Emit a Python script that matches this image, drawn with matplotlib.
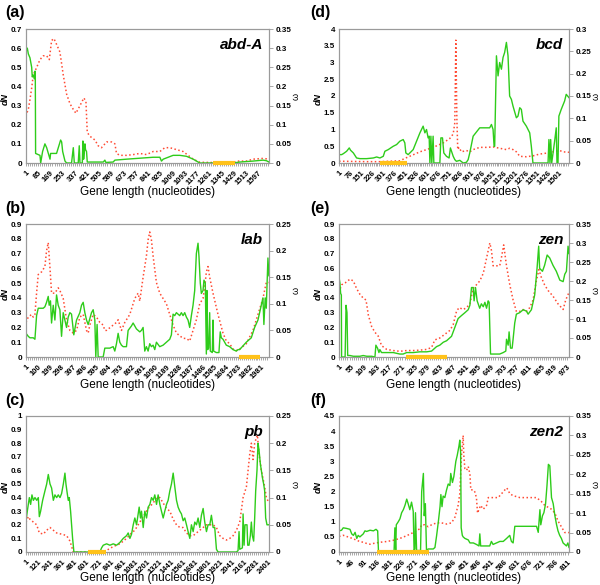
import matplotlib
matplotlib.use("Agg")
import matplotlib.pyplot as plt
import numpy as np

plt.rcParams['font.family'] = ['Liberation Sans', 'DejaVu Sans']

# ---------------- (a) abd-A ----------------
a_pos_dn = [1, 10, 17, 28, 40, 44, 51, 58, 63, 65, 67, 97, 102, 115, 131, 143, 166, 170, 211, 223, 239, 246, 253, 269, 280, 314, 326, 333, 360, 367, 372, 388, 392, 397, 401, 406, 410, 417, 422, 532, 543, 550, 600, 612, 692, 783, 875, 921, 932, 944, 1012, 1058, 1104, 1150, 1195, 1424, 1470, 1561, 1630, 1653, 1671]
a_dn = [0.59, 0.6, 0.57, 0.55, 0.5, 0.45, 0.46, 0.44, 0.48, 0.44, 0.05, 0.04, 0.0, 0.06, 0.1, 0.08, 0.02, 0.05, 0.05, 0.08, 0.12, 0.11, 0.06, 0.01, 0.0, 0.0, 0.08, 0.0, 0.0, 0.09, 0.0, 0.0, 0.115, 0.02, 0.05, 0.1, 0.07, 0.06, 0.005, 0.005, 0.015, 0.003, 0.005, 0.015, 0.02, 0.025, 0.03, 0.03, 0.01, 0.02, 0.04, 0.04, 0.035, 0.02, 0.0, 0.0, 0.005, 0.01, 0.015, 0.012, 0.005]
a_pos_w = [1, 6, 17, 28, 40, 51, 63, 86, 97, 120, 143, 161, 177, 193, 211, 234, 257, 280, 303, 326, 344, 372, 399, 413, 422, 440, 475, 497, 520, 555, 589, 612, 623, 646, 692, 738, 783, 829, 875, 921, 955, 989, 1035, 1081, 1115, 1150, 1195, 1424, 1447, 1515, 1561, 1630, 1671]
a_w = [0.122, 0.13, 0.14, 0.165, 0.196, 0.23, 0.24, 0.26, 0.27, 0.28, 0.28, 0.27, 0.32, 0.325, 0.31, 0.29, 0.23, 0.18, 0.155, 0.14, 0.13, 0.15, 0.17, 0.16, 0.08, 0.07, 0.06, 0.045, 0.04, 0.055, 0.055, 0.05, 0.025, 0.02, 0.02, 0.022, 0.025, 0.022, 0.03, 0.03, 0.04, 0.04, 0.035, 0.03, 0.02, 0.01, 0.002, 0.0, 0.005, 0.005, 0.01, 0.012, 0.01]
a_seg = [1285, 1436]

# ---------------- (b) lab ----------------
b_pos_dn = [1, 20, 34, 62, 76, 90, 104, 146, 160, 174, 188, 196, 207, 216, 230, 244, 258, 272, 286, 300, 314, 328, 342, 356, 370, 384, 403, 426, 454, 468, 482, 496, 510, 524, 538, 552, 566, 580, 588, 599, 608, 622, 650, 664, 706, 734, 748, 762, 776, 790, 804, 818, 846, 860, 888, 902, 930, 958, 972, 986, 1000, 1014, 1028, 1042, 1056, 1070, 1084, 1098, 1126, 1154, 1182, 1210, 1224, 1238, 1252, 1266, 1294, 1308, 1322, 1336, 1350, 1364, 1378, 1392, 1406, 1420, 1434, 1448, 1456, 1467, 1476, 1490, 1498, 1509, 1518, 1523, 1529, 1537, 1546, 1551, 1568, 1574, 1579, 1602, 1624, 1635, 1644, 1658, 1686, 1714, 1742, 1770, 1784, 1798, 1854, 1896, 1924, 1952, 1980, 1994, 2002, 2013, 2022, 2036, 2044]
b_dn = [0.16, 0.14, 0.13, 0.13, 0.12, 0.28, 0.33, 0.33, 0.34, 0.37, 0.41, 0.35, 0.38, 0.23, 0.35, 0.25, 0.42, 0.35, 0.32, 0.14, 0.3, 0.25, 0.2, 0.27, 0.3, 0.29, 0.15, 0.25, 0.3, 0.35, 0.37, 0.3, 0.25, 0.22, 0.26, 0.3, 0.32, 0.25, 0.0, 0.22, 0.0, 0.0, 0.0, 0.06, 0.06, 0.07, 0.04, 0.09, 0.16, 0.1, 0.08, 0.07, 0.07, 0.18, 0.21, 0.23, 0.19, 0.17, 0.18, 0.2, 0.04, 0.07, 0.04, 0.09, 0.07, 0.08, 0.05, 0.1, 0.07, 0.08, 0.1, 0.12, 0.15, 0.29, 0.28, 0.3, 0.28, 0.3, 0.28, 0.3, 0.27, 0.25, 0.2, 0.28, 0.35, 0.45, 0.7, 0.77, 0.68, 0.5, 0.43, 0.45, 0.52, 0.5, 0.02, 0.45, 0.05, 0.06, 0.3, 0.04, 0.03, 0.25, 0.04, 0.03, 0.03, 0.17, 0.13, 0.12, 0.08, 0.07, 0.05, 0.04, 0.05, 0.05, 0.1, 0.13, 0.2, 0.25, 0.35, 0.4, 0.22, 0.4, 0.33, 0.67, 0.55]
b_pos_w = [1, 20, 48, 62, 76, 90, 104, 132, 160, 174, 188, 202, 216, 244, 272, 286, 314, 342, 370, 398, 426, 454, 482, 510, 524, 538, 566, 594, 622, 650, 664, 678, 706, 734, 762, 776, 804, 832, 874, 916, 944, 958, 986, 1014, 1028, 1042, 1056, 1070, 1098, 1126, 1154, 1182, 1210, 1238, 1266, 1294, 1322, 1350, 1378, 1406, 1434, 1462, 1490, 1504, 1518, 1532, 1546, 1574, 1616, 1658, 1686, 1714, 1742, 1770, 1798, 1854, 1910, 1966, 1994, 2022, 2044]
b_w = [0.065, 0.075, 0.08, 0.075, 0.08, 0.12, 0.155, 0.16, 0.17, 0.2, 0.215, 0.17, 0.12, 0.12, 0.13, 0.125, 0.11, 0.07, 0.05, 0.045, 0.05, 0.075, 0.08, 0.05, 0.045, 0.06, 0.08, 0.075, 0.065, 0.06, 0.05, 0.05, 0.055, 0.06, 0.065, 0.07, 0.05, 0.065, 0.08, 0.11, 0.12, 0.105, 0.15, 0.19, 0.22, 0.235, 0.22, 0.19, 0.14, 0.12, 0.11, 0.1, 0.08, 0.06, 0.045, 0.04, 0.035, 0.035, 0.03, 0.05, 0.07, 0.1, 0.11, 0.13, 0.16, 0.17, 0.15, 0.12, 0.08, 0.045, 0.03, 0.025, 0.015, 0.012, 0.015, 0.025, 0.05, 0.09, 0.11, 0.14, 0.14]
b_seg = [1793, 1972]

# ---------------- (c) pb ----------------
c_pos_dn = [1, 14, 34, 47, 60, 74, 90, 107, 123, 133, 146, 166, 189, 206, 222, 239, 255, 272, 288, 305, 321, 338, 354, 371, 387, 397, 410, 420, 430, 443, 463, 476, 734, 750, 767, 800, 833, 866, 899, 932, 965, 998, 1014, 1031, 1047, 1064, 1080, 1097, 1123, 1136, 1146, 1163, 1179, 1196, 1212, 1229, 1245, 1262, 1278, 1295, 1311, 1328, 1344, 1361, 1377, 1394, 1410, 1427, 1443, 1460, 1476, 1493, 1509, 1526, 1542, 1559, 1575, 1592, 1608, 1625, 1641, 1658, 1674, 1691, 1707, 1724, 1740, 1757, 1773, 1790, 1806, 1823, 1839, 1856, 1872, 1889, 1905, 2087, 2103, 2113, 2120, 2146, 2153, 2163, 2172, 2192, 2199, 2212, 2225, 2235, 2245, 2258, 2268, 2278, 2291, 2301, 2311, 2324, 2344, 2357, 2367, 2377, 2390, 2410]
c_dn = [0.23, 0.3, 0.4, 0.35, 0.42, 0.38, 0.4, 0.38, 0.4, 0.26, 0.3, 0.38, 0.45, 0.5, 0.57, 0.5, 0.47, 0.38, 0.42, 0.4, 0.42, 0.4, 0.43, 0.5, 0.58, 0.5, 0.43, 0.38, 0.4, 0.3, 0.1, 0.0, 0.0, 0.03, 0.05, 0.06, 0.05, 0.06, 0.05, 0.07, 0.1, 0.12, 0.14, 0.1, 0.13, 0.2, 0.25, 0.2, 0.33, 0.25, 0.3, 0.18, 0.3, 0.25, 0.33, 0.35, 0.4, 0.38, 0.42, 0.35, 0.42, 0.35, 0.3, 0.25, 0.3, 0.35, 0.38, 0.45, 0.5, 0.58, 0.48, 0.38, 0.33, 0.3, 0.28, 0.23, 0.25, 0.2, 0.15, 0.1, 0.2, 0.15, 0.22, 0.2, 0.25, 0.18, 0.27, 0.32, 0.22, 0.15, 0.2, 0.2, 0.27, 0.18, 0.18, 0.02, 0.0, 0.0, 0.01, 0.15, 0.02, 0.03, 0.28, 0.05, 0.2, 0.2, 0.05, 0.05, 0.12, 0.22, 0.12, 0.08, 0.25, 0.45, 0.6, 0.8, 0.75, 0.65, 0.55, 0.5, 0.45, 0.25, 0.2, 0.2]
c_pos_w = [1, 24, 41, 74, 107, 133, 173, 206, 239, 272, 305, 371, 404, 437, 470, 734, 800, 866, 932, 998, 1047, 1080, 1113, 1146, 1179, 1212, 1262, 1295, 1328, 1361, 1394, 1427, 1460, 1493, 1526, 1559, 1592, 1625, 1658, 1724, 1790, 1856, 1889, 1922, 1955, 1988, 2021, 2054, 2087, 2120, 2153, 2186, 2219, 2235, 2252, 2268, 2285, 2295, 2311, 2334, 2367, 2384, 2410]
c_w = [0.055, 0.065, 0.06, 0.055, 0.05, 0.035, 0.033, 0.04, 0.045, 0.04, 0.035, 0.032, 0.03, 0.02, 0.0, 0.0, 0.003, 0.01, 0.015, 0.025, 0.035, 0.04, 0.05, 0.06, 0.07, 0.08, 0.09, 0.1, 0.1, 0.09, 0.08, 0.075, 0.06, 0.05, 0.045, 0.045, 0.035, 0.03, 0.03, 0.04, 0.05, 0.05, 0.045, 0.03, 0.025, 0.022, 0.025, 0.03, 0.04, 0.055, 0.1, 0.12, 0.18, 0.2, 0.17, 0.2, 0.21, 0.215, 0.18, 0.15, 0.12, 0.1, 0.09]
c_seg = [618, 793]

# ---------------- (d) bcd ----------------
d_pos_dn = [1, 19, 31, 53, 71, 80, 99, 121, 144, 189, 235, 258, 280, 303, 314, 337, 371, 394, 416, 439, 450, 457, 473, 507, 530, 553, 575, 587, 598, 609, 616, 621, 628, 634, 643, 648, 689, 696, 707, 716, 734, 752, 761, 780, 791, 802, 825, 848, 870, 882, 893, 916, 961, 1029, 1041, 1052, 1059, 1063, 1075, 1086, 1097, 1109, 1120, 1131, 1143, 1154, 1165, 1177, 1188, 1211, 1222, 1234, 1245, 1256, 1279, 1302, 1313, 1324, 1427, 1433, 1440, 1445, 1452, 1472, 1483, 1488, 1495, 1501, 1517, 1540, 1551, 1570]
d_dn = [0.25, 0.25, 0.28, 0.35, 0.45, 0.38, 0.3, 0.15, 0.13, 0.13, 0.15, 0.18, 0.15, 0.2, 0.35, 0.4, 0.5, 0.55, 0.65, 0.7, 0.6, 0.3, 0.25, 0.4, 0.65, 0.9, 1.1, 0.9, 1.0, 0.75, 0.8, 0.0, 0.8, 0.0, 0.8, 0.0, 0.0, 0.75, 0.75, 0.3, 0.2, 0.15, 0.45, 0.2, 0.1, 0.05, 0.08, 0.0, 0.02, 0.1, 0.3, 0.8, 1.05, 1.05, 1.15, 1.0, 0.5, 0.5, 3.2, 2.6, 3.0, 2.8, 3.15, 3.3, 3.6, 3.2, 2.0, 1.9, 1.7, 1.35, 1.4, 1.65, 1.6, 1.25, 1.1, 0.9, 0.5, 0.0, 0.0, 0.7, 0.0, 0.7, 0.0, 0.65, 1.05, 0.0, 0.0, 1.4, 1.6, 1.85, 2.05, 1.95]
d_pos_w = [1, 189, 280, 416, 462, 553, 643, 712, 757, 780, 791, 798, 805, 811, 820, 836, 870, 893, 916, 961, 1007, 1052, 1097, 1143, 1165, 1188, 1211, 1234, 1279, 1324, 1370, 1415, 1461, 1506, 1529, 1570]
d_w = [0.004, 0.003, 0.003, 0.005, 0.012, 0.025, 0.035, 0.045, 0.055, 0.065, 0.09, 0.275, 0.1, 0.03, 0.035, 0.025, 0.028, 0.025, 0.03, 0.035, 0.035, 0.036, 0.033, 0.03, 0.033, 0.03, 0.025, 0.015, 0.014, 0.016, 0.02, 0.022, 0.025, 0.028, 0.025, 0.024]
d_seg = [280, 468]

# ---------------- (e) zen ----------------
e_pos_dn = [1, 5, 8, 11, 12, 27, 31, 35, 38, 48, 62, 90, 104, 119, 140, 154, 158, 165, 171, 175, 182, 204, 232, 260, 274, 289, 317, 345, 374, 395, 402, 416, 430, 445, 459, 480, 494, 508, 522, 537, 551, 558, 565, 572, 576, 582, 589, 600, 607, 615, 622, 629, 636, 640, 646, 657, 685, 700, 711, 714, 721, 725, 731, 738, 742, 749, 756, 770, 785, 799, 806, 820, 834, 844, 851, 855, 867, 876, 887, 898, 912, 926, 941, 955, 962, 969, 976, 980]
e_dn = [0.54, 0.5, 0.43, 0.42, 0.0, 0.0, 0.35, 0.3, 0.01, 0.01, 0.005, 0.005, 0.01, 0.005, 0.005, 0.0, 0.08, 0.06, 0.03, 0.05, 0.03, 0.03, 0.03, 0.02, 0.02, 0.03, 0.03, 0.035, 0.035, 0.04, 0.05, 0.07, 0.08, 0.1, 0.11, 0.14, 0.2, 0.26, 0.28, 0.3, 0.32, 0.35, 0.47, 0.47, 0.38, 0.47, 0.38, 0.33, 0.36, 0.34, 0.37, 0.33, 0.38, 0.37, 0.02, 0.02, 0.02, 0.03, 0.04, 0.12, 0.08, 0.17, 0.06, 0.06, 0.12, 0.23, 0.29, 0.3, 0.32, 0.31, 0.29, 0.32, 0.42, 0.6, 0.75, 0.6, 0.58, 0.62, 0.69, 0.67, 0.62, 0.58, 0.52, 0.51, 0.56, 0.58, 0.75, 0.7]
e_pos_w = [1, 12, 27, 48, 62, 76, 90, 104, 116, 126, 140, 154, 168, 182, 204, 232, 260, 289, 317, 345, 374, 395, 409, 430, 452, 473, 487, 501, 512, 530, 544, 558, 572, 586, 600, 615, 629, 643, 650, 657, 671, 685, 692, 702, 714, 728, 742, 756, 770, 785, 799, 813, 827, 841, 852, 862, 876, 891, 912, 933, 955, 966, 980]
e_w = [0.17, 0.19, 0.195, 0.205, 0.2, 0.18, 0.165, 0.155, 0.15, 0.11, 0.08, 0.065, 0.055, 0.03, 0.02, 0.017, 0.015, 0.017, 0.017, 0.018, 0.02, 0.025, 0.045, 0.05, 0.06, 0.07, 0.085, 0.12, 0.13, 0.125, 0.13, 0.14, 0.18, 0.19, 0.2, 0.22, 0.26, 0.3, 0.28, 0.24, 0.24, 0.24, 0.26, 0.295, 0.24, 0.19, 0.15, 0.12, 0.12, 0.125, 0.12, 0.13, 0.15, 0.2, 0.23, 0.21, 0.19, 0.175, 0.16, 0.14, 0.125, 0.15, 0.17]
e_seg = [286, 462]

# ---------------- (f) zen2 ----------------
f_pos_dn = [1, 10, 16, 28, 40, 46, 52, 58, 64, 69, 75, 87, 93, 99, 111, 123, 132, 138, 141, 196, 199, 202, 204, 211, 217, 223, 229, 235, 241, 246, 252, 258, 264, 267, 270, 272, 276, 290, 294, 300, 303, 307, 311, 317, 335, 341, 347, 353, 359, 362, 366, 370, 376, 382, 388, 394, 397, 403, 408, 415, 420, 426, 429, 432, 434, 438, 441, 447, 459, 465, 477, 488, 497, 500, 503, 512, 524, 535, 541, 547, 559, 571, 583, 595, 606, 612, 618, 624, 701, 707, 713, 716, 722, 727, 733, 738, 743, 748, 754, 760, 766, 772, 777, 783, 789, 795, 801, 807, 812, 816]
f_dn = [0.7, 0.72, 0.8, 0.78, 0.75, 0.6, 0.55, 0.65, 0.45, 0.55, 0.5, 0.6, 0.7, 0.68, 0.72, 0.7, 0.75, 0.7, 0.0, 0.0, 0.8, 0.0, 0.9, 1.0, 1.1, 1.3, 1.4, 1.55, 1.75, 1.6, 1.4, 1.65, 1.35, 0.05, 0.1, 1.3, 0.05, 0.05, 2.0, 2.6, 1.2, 1.6, 0.05, 0.1, 0.1, 0.15, 0.55, 1.0, 1.5, 1.9, 1.5, 1.85, 1.8, 2.05, 2.25, 2.2, 2.6, 2.3, 2.5, 3.0, 3.2, 3.5, 3.7, 3.3, 0.8, 0.55, 0.5, 0.45, 0.4, 0.3, 0.3, 0.25, 0.2, 0.6, 0.2, 0.2, 0.2, 0.2, 0.35, 0.25, 0.3, 0.35, 0.35, 0.45, 0.55, 0.35, 0.3, 0.85, 0.85, 0.65, 1.4, 0.9, 1.2, 1.3, 1.6, 2.2, 2.9, 2.85, 1.8, 1.6, 1.2, 0.9, 0.7, 0.55, 0.45, 0.3, 0.25, 0.2, 0.3, 0.15]
f_pos_w = [1, 16, 28, 40, 52, 64, 75, 87, 99, 111, 123, 146, 170, 193, 217, 241, 264, 288, 294, 305, 317, 329, 347, 364, 382, 400, 412, 423, 429, 435, 441, 443, 447, 453, 459, 465, 468, 477, 482, 488, 492, 497, 503, 512, 524, 530, 547, 565, 577, 589, 595, 600, 606, 618, 642, 677, 701, 718, 730, 742, 754, 766, 777, 789, 801, 816]
f_w = [0.04, 0.043, 0.04, 0.037, 0.034, 0.03, 0.027, 0.025, 0.022, 0.02, 0.022, 0.025, 0.027, 0.03, 0.035, 0.042, 0.05, 0.06, 0.07, 0.07, 0.065, 0.07, 0.075, 0.075, 0.072, 0.075, 0.09, 0.12, 0.15, 0.25, 0.3, 0.25, 0.215, 0.21, 0.22, 0.2, 0.16, 0.16, 0.155, 0.14, 0.1, 0.11, 0.12, 0.11, 0.12, 0.14, 0.14, 0.14, 0.15, 0.16, 0.165, 0.16, 0.15, 0.145, 0.14, 0.14, 0.14, 0.13, 0.12, 0.115, 0.11, 0.1, 0.08, 0.065, 0.05, 0.05]
f_seg = [137, 321]

panels = [
    dict(tag='(a)', gene='abd-A', pos_dn=a_pos_dn, dn=a_dn, pos_w=a_pos_w, w=a_w, seg=a_seg,
         xmax=1671, step=84, dnmax=0.7, dnstep=0.1, wmax=0.35, wstep=0.05,
         box=(26, 269, 29, 163), col=0, xl=192),
    dict(tag='(b)', gene='lab', pos_dn=b_pos_dn, dn=b_dn, pos_w=b_pos_w, w=b_w, seg=b_seg,
         xmax=2045, step=99, dnmax=0.9, dnstep=0.1, wmax=0.25, wstep=0.05,
         box=(26, 269, 224, 357), col=0, xl=385),
    dict(tag='(c)', gene='pb', pos_dn=c_pos_dn, dn=c_dn, pos_w=c_pos_w, w=c_w, seg=c_seg,
         xmax=2410, step=120, dnmax=1.0, dnstep=0.1, wmax=0.25, wstep=0.05,
         box=(26, 269, 416, 552), col=0, xl=578),
    dict(tag='(d)', gene='bcd', pos_dn=d_pos_dn, dn=d_dn, pos_w=d_pos_w, w=d_w, seg=d_seg,
         xmax=1570, step=75, dnmax=4.0, dnstep=0.5, wmax=0.3, wstep=0.05,
         box=(339, 569, 29, 163), col=1, xl=192),
    dict(tag='(e)', gene='zen', pos_dn=e_pos_dn, dn=e_dn, pos_w=e_pos_w, w=e_w, seg=e_seg,
         xmax=980, step=54, dnmax=0.9, dnstep=0.1, wmax=0.35, wstep=0.05,
         box=(339, 569, 224, 357), col=1, xl=385),
    dict(tag='(f)', gene='zen2', pos_dn=f_pos_dn, dn=f_dn, pos_w=f_pos_w, w=f_w, seg=f_seg,
         xmax=816, step=45, dnmax=4.5, dnstep=0.5, wmax=0.35, wstep=0.05,
         box=(339, 569, 416, 552), col=1, xl=578),
]

W, H = 600, 585
fig = plt.figure(figsize=(W / 100, H / 100), dpi=100)

GREEN = '#2ecc1a'
RED = '#ff4a33'
GREY = '#9a9a9a'


def fmt(v):
    s = ('%.2f' % v).rstrip('0').rstrip('.')
    return s


for p in panels:
    l, r, t, b = p['box']
    ax = fig.add_axes([l / W, 1 - b / H, (r - l) / W, (b - t) / H])
    ax2 = ax.twinx()
    ax.set_zorder(ax2.get_zorder() + 1)
    ax.patch.set_visible(False)

    ax2.plot(p['pos_w'], p['w'], color=RED, lw=1.1, ls=(0, (1, 1.6)))
    ax.plot(p['pos_dn'], p['dn'], color=GREEN, lw=1.0)
    ax.plot(p['seg'], [0, 0], color='#ffc21a', lw=3.0, solid_capstyle='butt', zorder=5, clip_on=False)

    ax.set_xlim(1, p['xmax'])
    ax.set_ylim(0, p['dnmax'])
    ax2.set_ylim(0, p['wmax'])

    major = np.arange(1, p['xmax'], p['step'])
    ax.set_xticks(major)
    ax.set_xticklabels([str(v) for v in major], rotation=45, ha='right', va='top',
                       fontsize=5.5, fontweight='bold', rotation_mode='anchor')
    ax.set_xticks(np.arange(1, p['xmax'], p['step'] / 6), minor=True)
    ax.tick_params(axis='x', which='both', length=2.5, width=0.6, color=GREY, pad=2)

    yt = np.arange(0, p['dnmax'] + 1e-9, p['dnstep'])
    ax.set_yticks(yt)
    ax.set_yticklabels([fmt(v) for v in yt], fontsize=5.8, fontweight='bold')
    ax.tick_params(axis='y', length=0, pad=3)

    wt = np.arange(0, p['wmax'] + 1e-9, p['wstep'])
    ax2.set_yticks(wt)
    ax2.set_yticklabels([fmt(v) for v in wt], fontsize=5.8, fontweight='bold')
    ax2.tick_params(axis='y', length=3, width=0.6, color=GREY, pad=2)

    for a in (ax, ax2):
        for s in a.spines.values():
            s.set_color(GREY)
            s.set_linewidth(0.8)

    # labels
    px0 = 5 if p['col'] == 0 else 310
    fig.text(px0 / W, 1 - (t - 16) / H, p['tag'], fontsize=11.5, fontweight='bold', va='center', ha='left')
    fig.text((l - 20.5) / W, 1 - ((t + b) / 2 + 3) / H, 'dN', fontsize=6.5, fontweight='bold', style='italic',
             rotation=90, va='center', ha='center')
    fig.text((r + 27) / W, 1 - ((t + b) / 2) / H, 'ω', fontsize=6.5, rotation=90, va='center', ha='center')
    fig.text(((l + r) / 2) / W, 1 - p['xl'] / H, 'Gene length (nucleotides)',
             fontsize=8.5, va='center', ha='center')
    ax.text(0.975, 0.88, p['gene'], transform=ax.transAxes, fontsize=11, fontweight='bold', style='italic',
            ha='right', va='center')

fig.savefig('out.png', dpi=100)
